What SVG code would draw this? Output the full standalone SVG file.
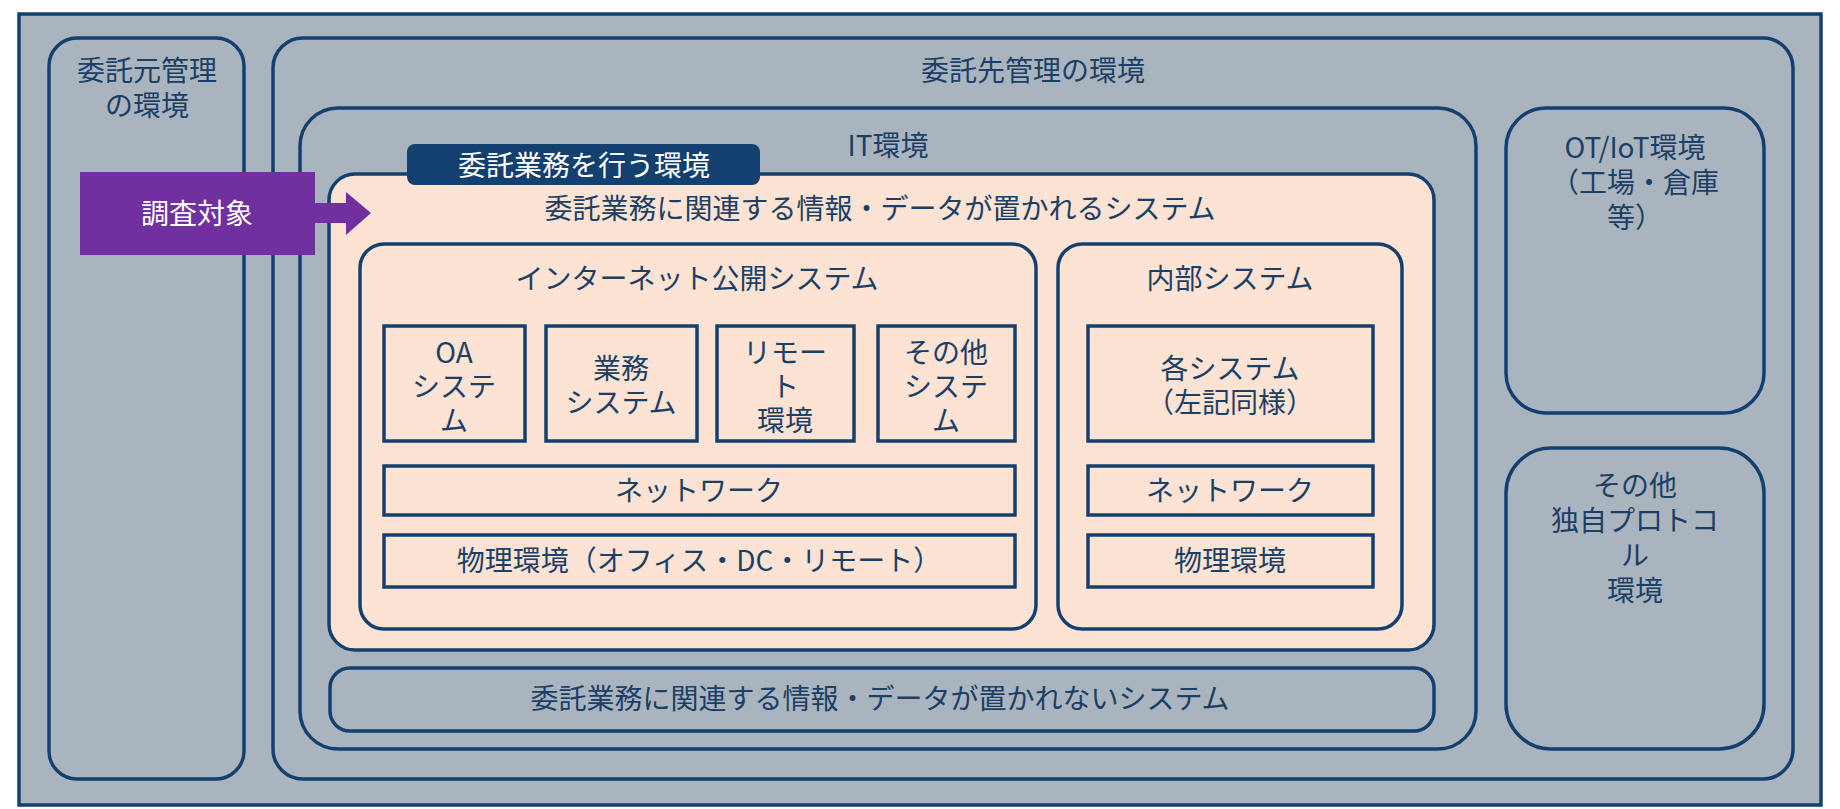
<svg xmlns="http://www.w3.org/2000/svg" width="1840" height="809" viewBox="0 0 1840 809">
<style>
.g{fill:#aab4bf;stroke:#13406f;stroke-width:3.5}
.p{fill:#fce3d4;stroke:#13406f;stroke-width:3.5}
text{font-family:"Noto Sans CJK JP","Liberation Sans",sans-serif;font-size:28px;fill:#1b3f66;text-anchor:middle;dominant-baseline:central}
.w{fill:#fff}
</style>
<rect width="1840" height="809" fill="#fff"/>
<g id="outer"><rect class="g" x="19" y="14" width="1802" height="791"/></g>
<g id="itaku-moto"><rect class="g" x="49" y="38" width="195" height="741" rx="28"/><text x="147" y="69">委託元管理</text><text x="147" y="104">の環境</text></g>
<g id="itaku-saki"><rect class="g" x="273" y="38" width="1520" height="741" rx="30"/><text x="1033" y="69">委託先管理の環境</text></g>
<g id="it"><rect class="g" x="300" y="108" width="1176" height="641" rx="38"/><text x="888" y="144">IT環境</text></g>
<g id="kanren"><rect class="p" x="329" y="174" width="1105" height="476" rx="26"/><text x="880" y="207">委託業務に関連する情報・データが置かれるシステム</text></g>
<g id="label"><rect x="407" y="144" width="353" height="41" rx="8" fill="#13406f"/><text class="w" x="584" y="164">委託業務を行う環境</text></g>
<g id="internet"><rect class="p" x="360" y="244" width="676" height="385" rx="24"/><text x="697" y="277">インターネット公開システム</text></g>
<g id="oa"><rect class="p" x="384" y="326" width="141" height="115"/><text x="454" y="351">OA</text><text x="454" y="385">システ</text><text x="454" y="419">ム</text></g>
<g id="gyomu"><rect class="p" x="546" y="326" width="151" height="115"/><text x="621" y="367">業務</text><text x="621" y="401">システム</text></g>
<g id="remote"><rect class="p" x="717" y="326" width="137" height="115"/><text x="785" y="351">リモー</text><text x="785" y="385">ト</text><text x="785" y="419">環境</text></g>
<g id="sonota"><rect class="p" x="878" y="326" width="137" height="115"/><text x="946" y="351">その他</text><text x="946" y="385">システ</text><text x="946" y="419">ム</text></g>
<g id="nw1"><rect class="p" x="384" y="466" width="631" height="49"/><text x="699" y="489">ネットワーク</text></g>
<g id="phys1"><rect class="p" x="384" y="535" width="631" height="52"/><text x="699" y="559">物理環境（オフィス・DC・リモート）</text></g>
<g id="naibu"><rect class="p" x="1058" y="244" width="344" height="385" rx="24"/><text x="1230" y="277">内部システム</text></g>
<g id="kaku"><rect class="p" x="1088" y="326" width="285" height="115"/><text x="1230" y="367">各システム</text><text x="1230" y="401">（左記同様）</text></g>
<g id="nw2"><rect class="p" x="1088" y="466" width="285" height="49"/><text x="1230" y="489">ネットワーク</text></g>
<g id="phys2"><rect class="p" x="1088" y="535" width="285" height="52"/><text x="1230" y="559">物理環境</text></g>
<g id="oki-nai"><rect class="g" x="330" y="668" width="1104" height="63" rx="20"/><text x="880" y="697">委託業務に関連する情報・データが置かれないシステム</text></g>
<g id="ot"><rect class="g" x="1506" y="108" width="258" height="305" rx="40"/><text x="1635" y="146">OT/IoT環境</text><text x="1635" y="181">（工場・倉庫</text><text x="1635" y="216">等）</text></g>
<g id="dokuji"><rect class="g" x="1506" y="448" width="258" height="301" rx="45"/><text x="1635" y="484">その他</text><text x="1635" y="519">独自プロトコ</text><text x="1635" y="554">ル</text><text x="1635" y="589">環境</text></g>
<g id="chosa"><rect x="80" y="172" width="235" height="83" fill="#7030a0"/><text class="w" x="197" y="212">調査対象</text></g>
<g id="connectors"><path d="M314 203H346V192L371 213L346 235V223H314Z" fill="#7030a0"/></g>
</svg>
